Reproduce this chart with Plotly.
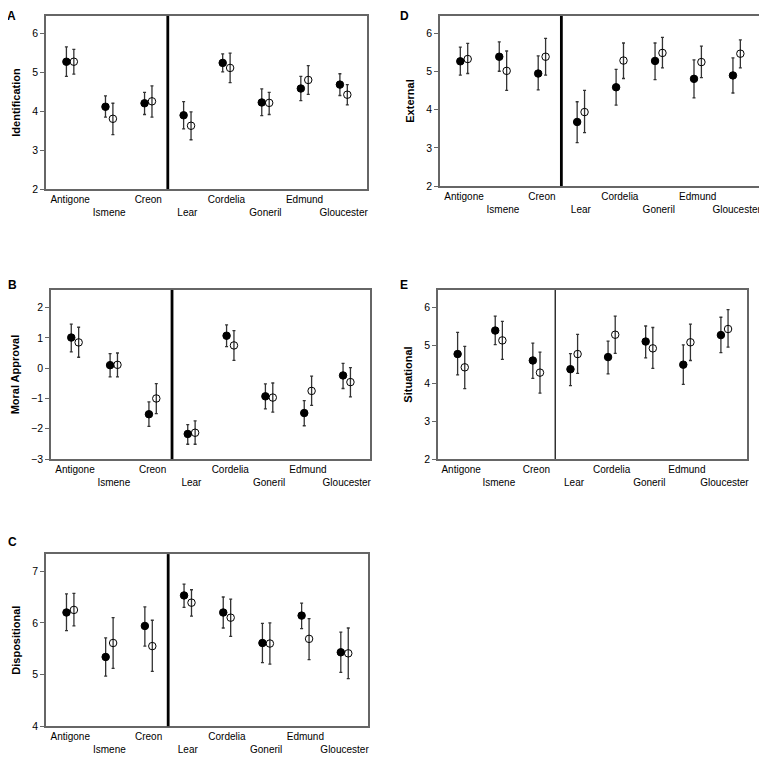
"""Five panels of means with 95% CI: characters from Antigone and King Lear."""

import plotly.graph_objects as go

characters = ["Antigone", "Ismene", "Creon", "Lear", "Cordelia", "Goneril", "Edmund", "Gloucester"]

# A - Identification
ident_filled = [5.28, 4.12, 4.21, 3.90, 5.25, 4.23, 4.59, 4.69]
ident_filled_hi = [5.66, 4.40, 4.49, 4.25, 5.48, 4.58, 4.90, 4.97]
ident_filled_lo = [4.90, 3.85, 3.92, 3.55, 5.02, 3.89, 4.28, 4.41]
ident_open = [5.28, 3.81, 4.26, 3.63, 5.12, 4.22, 4.81, 4.43]
ident_open_hi = [5.60, 4.21, 4.66, 3.99, 5.50, 4.49, 5.18, 4.69]
ident_open_lo = [4.96, 3.40, 3.85, 3.27, 4.74, 3.92, 4.44, 4.17]

# B - Moral Approval
moral_filled = [1.01, 0.10, -1.52, -2.17, 1.07, -0.93, -1.48, -0.24]
moral_filled_hi = [1.45, 0.48, -1.11, -1.86, 1.43, -0.52, -1.07, 0.16]
moral_filled_lo = [0.54, -0.29, -1.92, -2.51, 0.71, -1.34, -1.90, -0.67]
moral_open = [0.85, 0.11, -1.00, -2.13, 0.75, -0.97, -0.75, -0.46]
moral_open_hi = [1.35, 0.50, -0.51, -1.74, 1.24, -0.49, -0.26, 0.02]
moral_open_lo = [0.36, -0.29, -1.50, -2.51, 0.26, -1.45, -1.23, -0.95]

# C - Dispositional
disp_filled = [6.20, 5.34, 5.94, 6.53, 6.20, 5.61, 6.14, 5.43]
disp_filled_hi = [6.56, 5.71, 6.31, 6.75, 6.50, 5.99, 6.38, 5.82]
disp_filled_lo = [5.85, 4.97, 5.55, 6.30, 5.90, 5.23, 5.89, 5.04]
disp_open = [6.25, 5.61, 5.55, 6.39, 6.10, 5.60, 5.69, 5.41]
disp_open_hi = [6.57, 6.10, 6.05, 6.64, 6.46, 6.00, 6.08, 5.90]
disp_open_lo = [5.94, 5.12, 5.06, 6.13, 5.74, 5.20, 5.29, 4.92]

# D - External
ext_filled = [5.27, 5.39, 4.95, 3.68, 4.59, 5.28, 4.81, 4.90]
ext_filled_hi = [5.64, 5.78, 5.41, 4.21, 5.06, 5.75, 5.31, 5.36]
ext_filled_lo = [4.91, 5.01, 4.52, 3.14, 4.12, 4.79, 4.31, 4.44]
ext_open = [5.33, 5.02, 5.39, 3.94, 5.29, 5.49, 5.25, 5.47]
ext_open_hi = [5.74, 5.54, 5.87, 4.51, 5.75, 5.90, 5.67, 5.83]
ext_open_lo = [4.95, 4.51, 4.91, 3.40, 4.82, 5.10, 4.84, 5.10]

# E - Situational
sit_filled = [4.77, 5.39, 4.60, 4.37, 4.69, 5.10, 4.49, 5.27]
sit_filled_hi = [5.34, 5.77, 5.06, 4.78, 5.11, 5.51, 5.01, 5.74]
sit_filled_lo = [4.22, 5.02, 4.13, 3.94, 4.25, 4.67, 3.97, 4.81]
sit_open = [4.42, 5.13, 4.28, 4.77, 5.28, 4.92, 5.08, 5.43]
sit_open_hi = [4.97, 5.63, 4.82, 5.29, 5.77, 5.47, 5.56, 5.94]
sit_open_lo = [3.86, 4.63, 3.74, 4.26, 4.79, 4.39, 4.60, 4.95]

# the page body keeps its default 8px margin, so the figure is drawn
# 8px in from the window corner; positions below are window pixels.
# height leaves room for the bottom margin so the page does not scroll
PAGE_MARGIN = 8
W, H = 767 - PAGE_MARGIN, 763 - 2 * PAGE_MARGIN
FONT = "Liberation Sans"


def fx(px):
    return (px - PAGE_MARGIN) / W


def fy(px):
    return 1 - (px - PAGE_MARGIN) / H


panels = [
    # letter, title, filled, open, yrange, box px (x0, x1, y0, y1), letter px, divider width
    ("A", "Identification",
     (ident_filled, ident_filled_hi, ident_filled_lo),
     (ident_open, ident_open_hi, ident_open_lo),
     [2, 6.46], (46, 368, 16, 191), (6, 8), 2.8),
    ("B", "Moral Approval",
     (moral_filled, moral_filled_hi, moral_filled_lo),
     (moral_open, moral_open_hi, moral_open_lo),
     [-3, 2.58], (51, 371, 293, 464), (7, 280), 2.8),
    ("C", "Dispositional",
     (disp_filled, disp_filled_hi, disp_filled_lo),
     (disp_open, disp_open_hi, disp_open_lo),
     [4, 7.33], (46, 369, 560, 734), (7, 540), 2.8),
    ("D", "External",
     (ext_filled, ext_filled_hi, ext_filled_lo),
     (ext_open, ext_open_hi, ext_open_lo),
     [2, 6.46], (441, 762, 16, 188), (400, 8), 2.8),
    ("E", "Situational",
     (sit_filled, sit_filled_hi, sit_filled_lo),
     (sit_open, sit_open_hi, sit_open_lo),
     [2, 6.46], (439, 749, 293, 464), (400, 280), 1.2),
]

tick_text = [("<br>" + c) if i % 2 else c for i, c in enumerate(characters)]
idx = list(range(len(characters)))
OFFSET = 0.095

fig = go.Figure()
layout = {}
shapes = []
annotations = []

for n, (letter, title, filled, opened, yrange, box, lpos, div_w) in enumerate(panels, start=1):
    sfx = "" if n == 1 else str(n)
    x0, x1, y0, y1 = box
    for (mean, hi, lo), dx, symbol in (
        (filled, -OFFSET, "circle"),
        (opened, OFFSET, "circle-open"),
    ):
        fig.add_trace(
            go.Scatter(
                x=[i + dx for i in idx],
                y=mean,
                mode="markers",
                marker=dict(symbol=symbol, size=7.5, color="black",
                            line=dict(color="black", width=1)),
                error_y=dict(
                    type="data", symmetric=False,
                    array=[h - m for h, m in zip(hi, mean)],
                    arrayminus=[m - l for m, l in zip(mean, lo)],
                    color="#333333", thickness=1.3, width=1.5,
                ),
                xaxis="x" + sfx, yaxis="y" + sfx,
                showlegend=False,
            )
        )

    layout["xaxis" + sfx] = dict(
        domain=[fx(x0), fx(x1)], anchor="y" + sfx,
        range=[-0.62, 7.6], tickvals=idx, ticktext=tick_text,
        tickangle=0, ticklabeloverflow="allow",
        showline=True, mirror=True, linecolor="#666666", linewidth=1.5,
        showgrid=False, zeroline=False, ticks="",
        tickfont=dict(family=FONT, size=10, color="black"),
    )
    layout["yaxis" + sfx] = dict(
        domain=[fy(y1), fy(y0)], anchor="x" + sfx,
        range=yrange, dtick=1,
        showline=True, mirror=True, linecolor="#666666", linewidth=1.5,
        showgrid=False, zeroline=False,
        ticks="outside", ticklen=4, tickcolor="#666666",
        tickfont=dict(family=FONT, size=10.5, color="black"),
        title=dict(text="<b>" + title + "</b>", standoff=9,
                   font=dict(family=FONT, size=11, color="black")),
    )
    shapes.append(dict(
        type="line", xref="x" + sfx, yref="y" + sfx + " domain",
        x0=2.5, x1=2.5, y0=0, y1=1,
        line=dict(color="black", width=div_w),
    ))
    annotations.append(dict(
        text="<b>" + letter + "</b>", xref="paper", yref="paper",
        x=fx(lpos[0]), y=min(1, fy(lpos[1])), xanchor="left", yanchor="top",
        borderpad=0, showarrow=False,
        font=dict(family=FONT, size=12, color="black"),
    ))

fig.update_layout(
    width=W, height=H,
    margin=dict(l=0, r=0, t=0, b=0),
    plot_bgcolor="white", paper_bgcolor="white",
    shapes=shapes, annotations=annotations,
    **layout,
)

fig.write_html("out.html")
